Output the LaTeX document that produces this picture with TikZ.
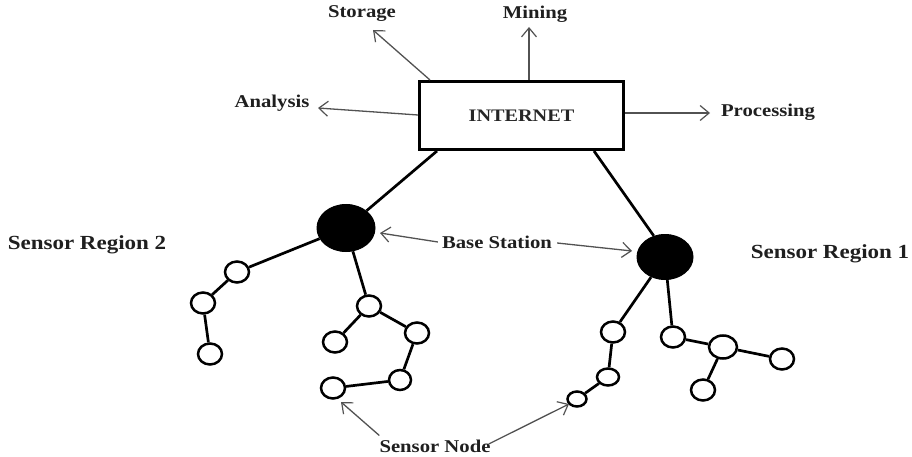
\documentclass[tikz,border=0pt]{standalone}
\usepackage{fontspec}
\setmainfont{Liberation Serif}[FakeStretch=1.15]
\usetikzlibrary{shapes.geometric,arrows.meta,calc}

\tikzset{
  lbl/.style={font=\bfseries\fontsize{18}{21}\selectfont, text=black!88, inner sep=0pt},
  region/.style={font=\bfseries\fontsize{20}{23}\selectfont, text=black!88, inner sep=0pt},
  netbox/.style={draw, line width=3.6pt, minimum width=204pt, minimum height=68pt, fill=white,
                 font=\bfseries\fontsize{17.6}{20}\selectfont, text=black!85},
  basest/.style={ellipse, fill=black, draw=black, line width=1pt, inner sep=0pt},
  sensor/.style={ellipse, draw=black, fill=white, line width=2.5pt, inner sep=0pt,
                 minimum width=24pt, minimum height=21pt},
  link/.style={line width=2.7pt, black},
  pointer/.style={draw=black!68, line width=1.3pt,
                  -{Straight Barb[length=9pt,width=15pt,line width=1.2pt]}}
}

\begin{document}
\begin{tikzpicture}[x=1pt,y=-1pt]
\useasboundingbox (0,0) rectangle (912,457);

% central cloud box
\node[netbox] (inet) at (521.5,115.5) {INTERNET};

% service labels
\node[lbl] (storage) at (362,14) {Storage};
\node[lbl] (mining) at (535,14) {Mining};
\node[lbl] (analysis) at (272,103) {Analysis};
\node[lbl] (processing) at (768,112) {Processing};

% region and role labels
\node[region] (sr2) at (87,245) {Sensor Region 2};
\node[region] (sr1) at (830,254) {Sensor Region 1};
\node[lbl] (bsl) at (497,242) {Base Station};
\node[lbl] (snl) at (435,446) {Sensor Node};

% base stations
\node[basest, minimum width=58pt, minimum height=47pt] (bs2) at (346,228) {};
\node[basest, minimum width=56pt, minimum height=45pt] (bs1) at (665,257) {};

% region 2 sensors
\node[sensor] (a1) at (237,272) {};
\node[sensor] (a2) at (203,303) {};
\node[sensor] (a3) at (210,354) {};
\node[sensor] (a4) at (369,306) {};
\node[sensor] (a5) at (335,342) {};
\node[sensor] (a6) at (417,333) {};
\node[sensor, minimum width=22pt, minimum height=20pt] (a7) at (400,380) {};
\node[sensor] (a8) at (333,388) {};

% region 1 sensors
\node[sensor] (b1) at (613,332) {};
\node[sensor, minimum width=22pt, minimum height=17pt] (b2) at (608,377) {};
\node[sensor, minimum width=19pt, minimum height=15pt] (b3) at (577,399) {};
\node[sensor] (b4) at (673,337) {};
\node[sensor, minimum width=28pt, minimum height=23pt] (b5) at (723,347) {};
\node[sensor] (b6) at (782,359) {};
\node[sensor] (b7) at (703,390) {};

% uplinks from base stations to the box
\coordinate (upL) at (437,151);
\coordinate (upR) at (594,151);
\draw[link] (upL) -- (bs2.40);
\draw[link] (upR) -- (bs1.118);

% sensor tree links
\draw[link] (bs2) -- (a1);
\draw[link] (a1) -- (a2);
\draw[link] (a2) -- (a3);
\draw[link] (bs2) -- (a4);
\draw[link] (a4) -- (a5);
\draw[link] (a4) -- (a6);
\draw[link] (a6) -- (a7);
\draw[link] (a7) -- (a8);

\draw[link] (bs1) -- (b1);
\draw[link] (b1) -- (b2);
\draw[link] (b2) -- (b3);
\draw[link] (bs1) -- (b4);
\draw[link] (b4) -- (b5);
\draw[link] (b5) -- (b6);
\draw[link] (b5) -- (b7);

% service arrows
\coordinate (stoFrom) at (430,80);
\coordinate (stoTip) at (373,30);
\coordinate (minFrom) at (529,80);
\coordinate (minTip) at (529,27);
\coordinate (anaFrom) at (418,115);
\coordinate (anaTip) at (318,108);
\coordinate (proFrom) at (625,113);
\coordinate (proTip) at (710,113);
\draw[pointer] (stoFrom) -- (stoTip);
\draw[pointer] (minFrom) -- (minTip);
\draw[pointer] (anaFrom) -- (anaTip);
\draw[pointer] (proFrom) -- (proTip);

% base station call-outs
\coordinate (bsTipL) at (380,233);
\coordinate (bsTipR) at (632,251);
\draw[pointer] ($(bsl.west)+(-4,0)$) -- (bsTipL);
\draw[pointer] ($(bsl.east)+(5,1)$) -- (bsTipR);

% sensor node call-outs
\coordinate (snTipL) at (341,402);
\coordinate (snTipR) at (569,404);
\draw[pointer] ($(snl.north west)+(0,-4)$) -- (snTipL);
\draw[pointer] ($(snl.east)+(-2,-2)$) -- (snTipR);
\end{tikzpicture}
\end{document}
